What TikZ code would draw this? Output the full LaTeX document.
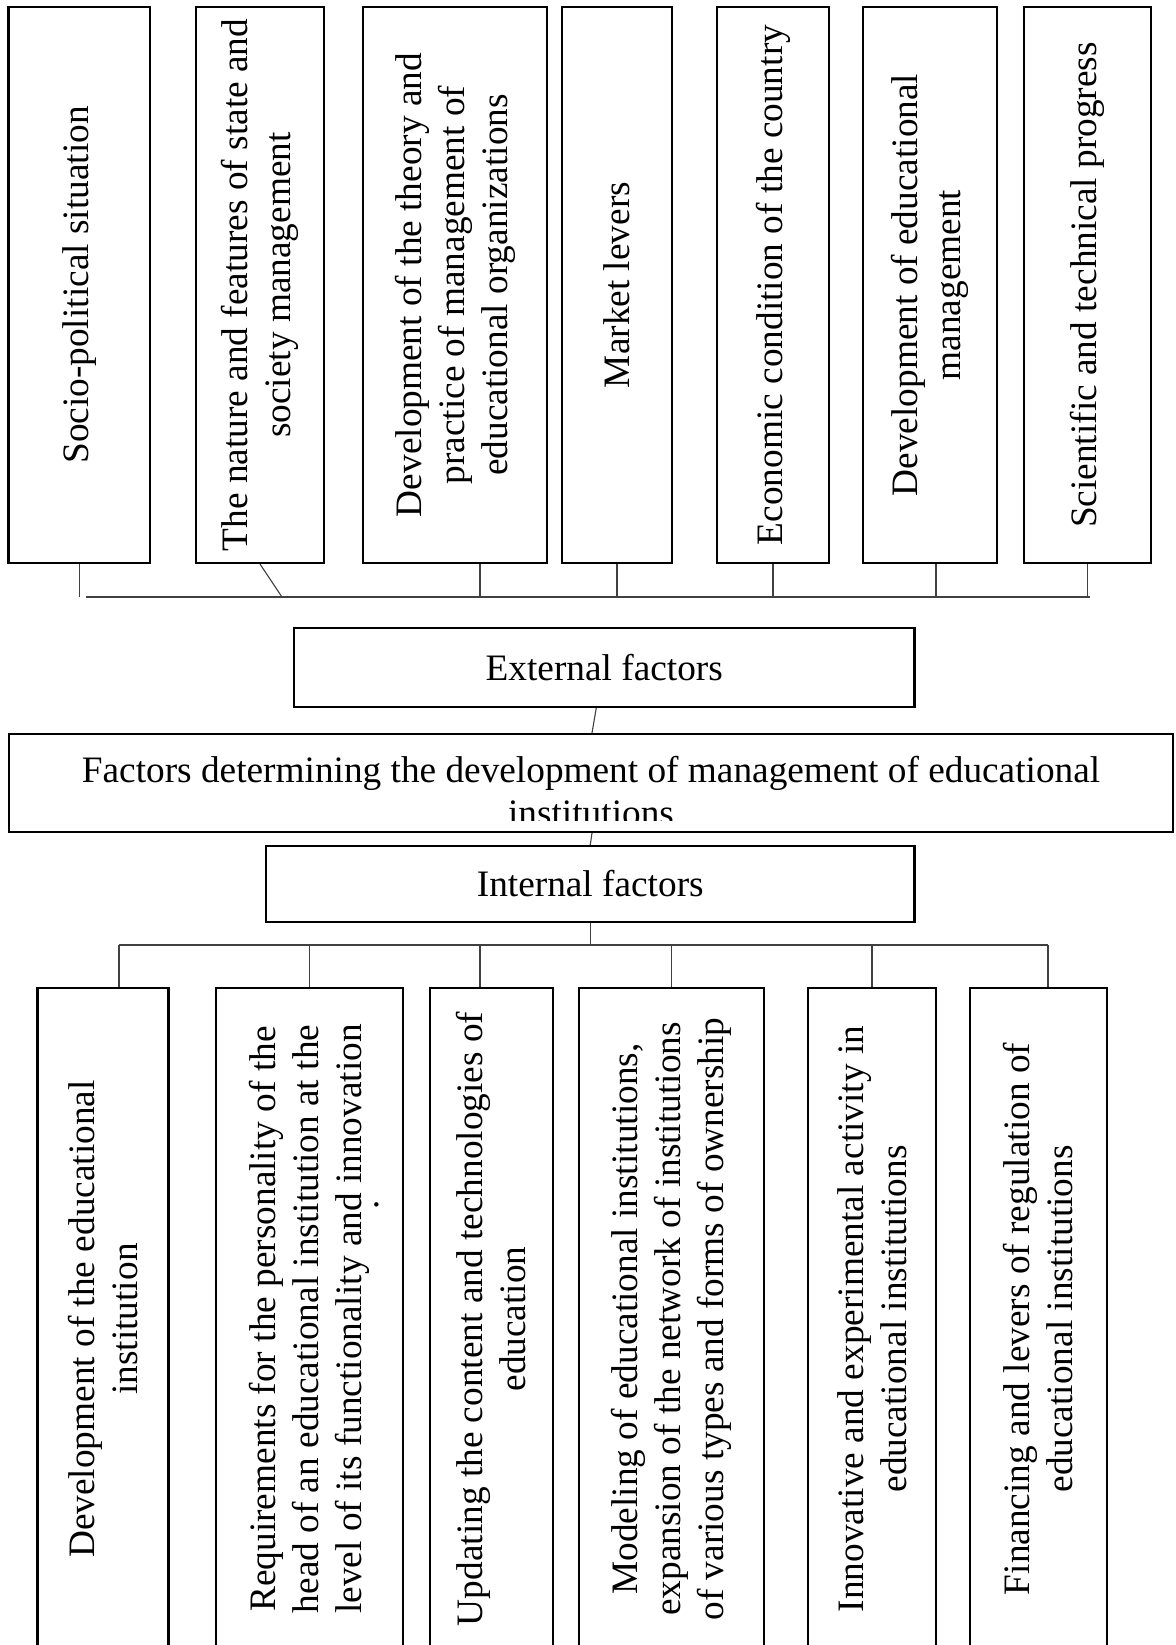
\documentclass[tikz,border=0pt]{standalone}
\usepackage{fontspec}
\setmainfont{Liberation Serif}
\tikzset{
  box/.style={draw=black, line width=2.2pt, inner sep=0pt, fill=white},
  conn/.style={draw=black!75, line width=1.1pt},
  txt/.style={font=\fontsize{37.3}{43}\selectfont, align=center, inner sep=0pt},
  vtxt/.style={txt, rotate=90},
}
\begin{document}
\begin{tikzpicture}[x=1pt,y=-1pt]
\useasboundingbox (0,0) rectangle (1175,1645);
\clip (0,0) rectangle (1175,1645);
\fill[white] (0,0) rectangle (1175,1645);

% ---- external factors (top row) ----
\node[box, minimum width=141.6pt, minimum height=556pt] (b1) at (79.2,285) {};
\node[box, minimum width=128pt,   minimum height=556pt] (b2) at (260,285) {};
\node[box, minimum width=184pt,   minimum height=556pt] (b3) at (455,285) {};
\node[box, minimum width=110pt,   minimum height=556pt] (b4) at (617,285) {};
\node[box, minimum width=112pt,   minimum height=556pt] (b5) at (773,285) {};
\node[box, minimum width=134pt,   minimum height=556pt] (b6) at (930,285) {};
\node[box, minimum width=127pt,   minimum height=556pt] (b7) at (1087.5,285) {};

\node[vtxt] (b1t) at (b1) {Socio-political situation};
\node[vtxt] (b2t) at (b2) {The nature and features of state and\\society management};
\node[vtxt] (b3t) at (b3) {Development of the theory and\\practice of management of\\educational organizations};
\node[vtxt] (b4t) at (b4) {Market levers};
\node[vtxt] (b5t) at (b5) {Economic condition of the country};
\node[vtxt] (b6t) at (b6) {Development of educational\\management};
\node[vtxt] (b7t) at (b7) {Scientific and technical progress};

\coordinate (busL) at (86,597);
\coordinate (busR) at (1090,597);
\draw[conn] (busL) -- (busR);
\draw[conn] (b1.south) -- (b1.south |- busL);
\draw[conn] (b2.south) -- ([xshift=22pt]b2.south |- busL);
\draw[conn] ([xshift=25pt]b3.south) -- ([xshift=25pt]b3.south |- busL);
\draw[conn] (b4.south) -- (b4.south |- busL);
\draw[conn] (b5.south) -- (b5.south |- busL);
\draw[conn] ([xshift=6pt]b6.south) -- ([xshift=6pt]b6.south |- busL);
\draw[conn] (b7.south) -- (b7.south |- busR);

% ---- central boxes ----
\node[box, minimum width=620.5pt, minimum height=79pt] (ext) at (604.25,667.5) {};
\node[txt] (extt) at (ext) {External factors};

\node[box, minimum width=1164pt, minimum height=98pt] (main) at (591,783) {};
\begin{scope}
  \clip (9,734) rectangle (1173,820);
  \node[txt, anchor=north] (maint) at (591,756.5)
    {Factors determining the development of management of educational\\institutions};
\end{scope}

\node[box, minimum width=648.5pt, minimum height=76pt] (int) at (590.25,884) {};
\node[txt] (intt) at (int) {Internal factors};

\draw[conn] ([xshift=-8pt]ext.south) -- ([xshift=1pt]main.north);
\draw[conn] ([xshift=1pt]main.south) -- (int.north);

% ---- internal factors (bottom row) ----
\node[box, minimum width=131pt, minimum height=662pt] (c1) at (103,1319) {};
\node[box, minimum width=187pt, minimum height=662pt] (c2) at (309.5,1319) {};
\node[box, minimum width=123pt, minimum height=662pt] (c3) at (491.5,1319) {};
\node[box, minimum width=185pt, minimum height=662pt] (c4) at (671.5,1319) {};
\node[box, minimum width=128pt, minimum height=662pt] (c5) at (872,1319) {};
\node[box, minimum width=137pt, minimum height=662pt] (c6) at (1038.5,1319) {};

\node[vtxt] (c1t) at (c1) {Development of the educational\\institution};
\node[vtxt] (c2t) at (c2) {Requirements for the personality of the\\head of an educational institution at the\\level of its functionality and innovation};
\node[vtxt] (c2d) at (377,1205) {.};
\node[vtxt] (c3t) at (c3) {Updating the content and technologies of\\education};
\node[vtxt] (c4t) at (c4) {Modeling of educational institutions,\\expansion of the network of institutions\\of various types and forms of ownership};
\node[vtxt] (c5t) at (c5) {Innovative and experimental activity in\\educational institutions};
\node[vtxt] (c6t) at (c6) {Financing and levers of regulation of\\educational institutions};

\coordinate (bus2L) at (119,945);
\coordinate (bus2R) at (1048,945);
\draw[conn] (bus2L) -- (bus2R);
\draw[conn] (int.south) -- (int.south |- bus2L);
\draw[conn] (bus2L) -- (bus2L |- c1.north);
\draw[conn] (c2.north) -- (c2.north |- bus2L);
\draw[conn] ([xshift=-11.5pt]c3.north) -- ([xshift=-11.5pt]c3.north |- bus2L);
\draw[conn] (c4.north) -- (c4.north |- bus2L);
\draw[conn] (c5.north) -- (c5.north |- bus2L);
\draw[conn] (bus2R) -- (bus2R |- c6.north);
\end{tikzpicture}
\end{document}
